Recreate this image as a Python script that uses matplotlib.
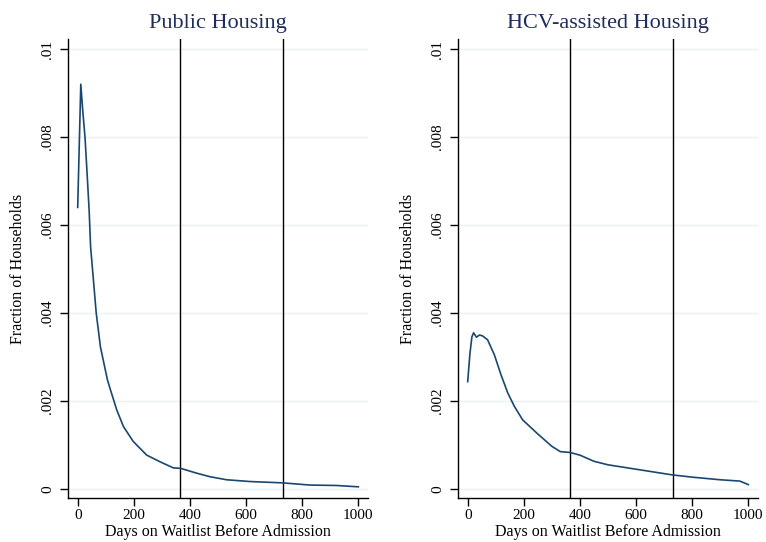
import matplotlib
matplotlib.use("Agg")
import matplotlib.pyplot as plt

# values
ph_days = [0, 11, 18, 26, 35, 41, 46, 56, 66, 81, 106, 115, 139, 163, 198,
           246, 293, 341, 367, 424, 471, 531, 614, 730, 828, 923, 1000]
ph_frac = [0.0064, 0.0092, 0.0086, 0.0080, 0.0070, 0.0063, 0.0055, 0.00475,
           0.0040, 0.00323, 0.00248, 0.00229, 0.00180, 0.00142, 0.00108,
           0.00077, 0.00062, 0.00048, 0.00047, 0.00036, 0.00028, 0.00021,
           0.00017, 0.00014, 0.00009, 0.00008, 0.00005]

hcv_days = [0, 8, 15, 21, 26, 31, 42, 53, 71, 95, 119, 143, 167, 196, 250,
            300, 330, 365, 400, 450, 500, 600, 700, 730, 800, 900, 970, 1000]
hcv_frac = [0.00244, 0.00308, 0.00346, 0.00355, 0.00350, 0.00345, 0.00350,
            0.00348, 0.00339, 0.00305, 0.00259, 0.00218, 0.00187, 0.00157,
            0.00125, 0.00097, 0.00085, 0.00083, 0.00077, 0.00063, 0.00055,
            0.00045, 0.00035, 0.00032, 0.00027, 0.00021, 0.00018, 0.0001]

cutoffs = [365, 730]
yticks = [0, 0.002, 0.004, 0.006, 0.008, 0.01]
ytick_labels = ["0", ".002", ".004", ".006", ".008", ".01"]
xticks = [0, 200, 400, 600, 800, 1000]
titles = ["Public Housing", "HCV-assisted Housing"]

LINE = "#1a476f"
TITLE = "#1e2d5a"
GRID = "#eaf2f3"

plt.rcParams["font.family"] = ["Liberation Serif", "DejaVu Serif"]

fig = plt.figure(figsize=(7.66, 5.42), dpi=100, facecolor="white")
W, H = 766.0, 542.0
ax_h = (498.3 - 39.3) / H
bottom = (H - 498.3) / H
lefts = [68.3 / W, 458.3 / W]

series = [(ph_days, ph_frac), (hcv_days, hcv_frac)]

for i, (days, frac) in enumerate(series):
    ax = fig.add_axes([lefts[i], bottom, 300 / W, ax_h])
    for y in yticks:
        ax.axhline(y, color=GRID, linewidth=1.0, zorder=0)
    for c in cutoffs:
        ax.axvline(c, color="black", linewidth=1.0, zorder=2)
    ax.plot(days, frac, color=LINE, linewidth=1.2, zorder=3)

    ax.set_xlim(-33.5, 1035.6)
    ax.set_ylim(-0.000211, 0.010221)
    ax.set_xticks(xticks)
    ax.set_yticks(yticks)
    ax.set_yticklabels(ytick_labels, rotation=90, va="center")
    ax.tick_params(axis="both", direction="out", length=6, width=1,
                   labelsize=11, color="black")
    ax.tick_params(axis="y", pad=4)
    ax.tick_params(axis="x", pad=1.5)
    for s in ["top", "right"]:
        ax.spines[s].set_visible(False)
    for s in ["left", "bottom"]:
        ax.spines[s].set_linewidth(1.0)

    ax.set_title(titles[i], fontsize=16, color=TITLE, pad=8)
    ax.set_xlabel("Days on Waitlist Before Admission", fontsize=11.5,
                  va="baseline")
    ax.xaxis.set_label_coords(0.5, (498.3 - 536) / 459.0)
    ax.set_ylabel("Fraction of Households", fontsize=11.5, va="center")
    ax.yaxis.set_label_coords((18 - 68.3) / 300.0, 0.5)

fig.savefig("out.png", dpi=100, facecolor="white")
